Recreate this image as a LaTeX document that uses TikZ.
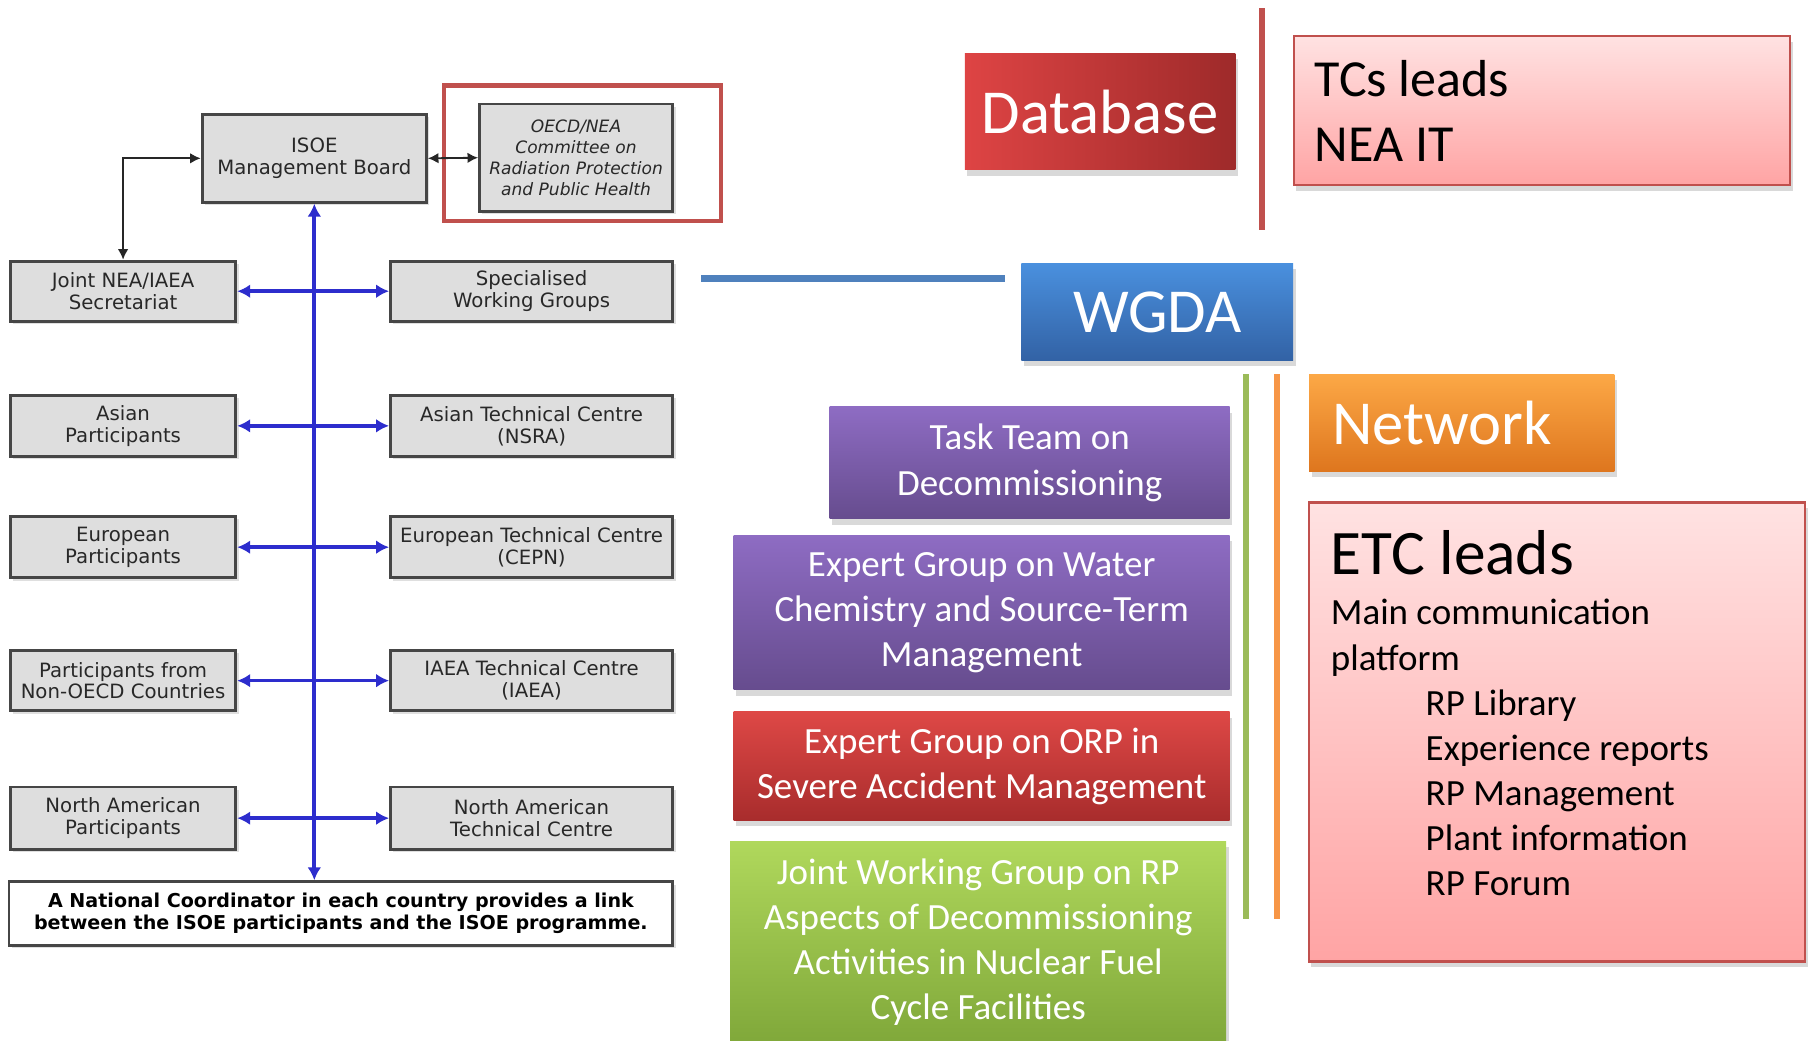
\documentclass[tikz,border=0pt]{standalone}
\usepackage{fontspec}
\setmainfont{Carlito}
\newfontfamily\leftfont{DejaVu Sans}
\usetikzlibrary{shadows,arrows.meta}
\definecolor{gfill}{RGB}{222,222,222}
\definecolor{gborder}{RGB}{70,70,70}
\definecolor{gtext}{RGB}{40,40,40}
\definecolor{flowblue}{RGB}{45,45,205}
\definecolor{frameRed}{RGB}{192,80,77}
\definecolor{dbL}{RGB}{222,68,68}
\definecolor{dbR}{RGB}{158,42,42}
\definecolor{wgT}{RGB}{74,144,222}
\definecolor{wgB}{RGB}{50,98,165}
\definecolor{netT}{RGB}{252,168,70}
\definecolor{netB}{RGB}{222,118,30}
\definecolor{purT}{RGB}{142,108,195}
\definecolor{purB}{RGB}{102,76,142}
\definecolor{redT}{RGB}{222,72,70}
\definecolor{redB}{RGB}{168,44,44}
\definecolor{grnT}{RGB}{176,216,92}
\definecolor{grnB}{RGB}{128,168,58}
\definecolor{pinkT}{RGB}{255,226,226}
\definecolor{pinkB}{RGB}{255,164,164}
\definecolor{lineRed}{RGB}{192,80,77}
\definecolor{lineBlue}{RGB}{79,129,189}
\definecolor{lineGreen}{RGB}{155,187,89}
\definecolor{lineOrange}{RGB}{247,150,70}
\tikzset{
  gbox/.style={draw=gborder, fill=gfill, line width=0.7pt, inner sep=0pt, align=center,
    text=gtext, font={\leftfont\fontsize{4.85}{5.4}\selectfont},
    drop shadow={shadow xshift=0.025cm, shadow yshift=-0.025cm, opacity=0.25}},
  bluearrow/.style={draw=flowblue, line width=0.9pt, {Latex[length=3.2pt,width=3.4pt]}-{Latex[length=3.2pt,width=3.4pt]}},
  blackarrow/.style={draw=black!85, line width=0.45pt, {Latex[length=2.6pt,width=2.6pt]}-{Latex[length=2.6pt,width=2.6pt]}},
  cbox/.style={inner sep=0pt, text=white, align=center,
    drop shadow={shadow xshift=0.02cm, shadow yshift=-0.05cm, opacity=0.3}},
  wbox/.style={cbox, font={\fontsize{9.1}{11.1}\selectfont}},
  bigtext/.style={font={\fontsize{15.4}{18}\selectfont}},
  pinkbox/.style={draw=frameRed, line width=0.6pt, top color=pinkT, bottom color=pinkB, inner sep=0pt,
    drop shadow={shadow xshift=0.02cm, shadow yshift=-0.05cm, opacity=0.3}},
  divider/.style={line width=1.6pt}
}
\begin{document}
\begin{tikzpicture}[x=0.01cm,y=-0.01cm]
\useasboundingbox (0,0) rectangle (1568,900);
% ---------- left organisation chart ----------
\node[draw=frameRed, line width=1pt, minimum width=2.40cm, minimum height=1.17cm, inner sep=0pt] (frame) at (504,132.5) {};
\node[gbox, minimum width=1.94cm, minimum height=0.76cm] (isoe) at (272,137) {ISOE\\Management Board};
\node[gbox, minimum width=1.67cm, minimum height=0.93cm, font={\leftfont\itshape\fontsize{4.2}{5.1}\selectfont}] (oecd) at (498.5,136.5) {OECD/NEA\\Committee on\\Radiation Protection\\and Public Health};

\node[gbox, minimum width=1.95cm, minimum height=0.52cm] (joint) at (106.5,252) {Joint NEA/IAEA\\Secretariat};
\node[gbox, minimum width=2.44cm, minimum height=0.52cm] (swg) at (460,252) {Specialised\\Working Groups};
\node[gbox, minimum width=1.95cm, minimum height=0.53cm] (asiap) at (106.5,368.5) {Asian\\Participants};
\node[gbox, minimum width=2.44cm, minimum height=0.53cm] (atc) at (460,368.5) {Asian Technical Centre\\(NSRA)};
\node[gbox, minimum width=1.95cm, minimum height=0.53cm] (europ) at (106.5,473.5) {European\\Participants};
\node[gbox, minimum width=2.44cm, minimum height=0.53cm] (etcen) at (460,473.5) {European Technical Centre\\(CEPN)};
\node[gbox, minimum width=1.95cm, minimum height=0.52cm] (nonoecd) at (106.5,589) {Participants from\\Non-OECD Countries};
\node[gbox, minimum width=2.44cm, minimum height=0.52cm] (iaea) at (460,589) {IAEA Technical Centre\\(IAEA)};
\node[gbox, minimum width=1.95cm, minimum height=0.54cm] (nap) at (106.5,708) {North American\\Participants};
\node[gbox, minimum width=2.44cm, minimum height=0.54cm] (natc) at (460,708) {North American\\Technical Centre};
\node[gbox, fill=white, text=black, minimum width=5.74cm, minimum height=0.55cm, font={\leftfont\bfseries\fontsize{4.7}{5.5}\selectfont}] (ncoord) at (295,790.5) {A National Coordinator in each country provides a link\\between the ISOE participants and the ISOE programme.};

\draw[blackarrow] (joint.north) |- (isoe.west);
\draw[blackarrow] (isoe.east) -- (oecd.west);
\draw[bluearrow] (isoe.south) -- (isoe.south |- ncoord.north);
\draw[bluearrow] (joint.east) -- (swg.west);
\draw[bluearrow] (asiap.east) -- (atc.west);
\draw[bluearrow] (europ.east) -- (etcen.west);
\draw[bluearrow] (nonoecd.east) -- (iaea.west);
\draw[bluearrow] (nap.east) -- (natc.west);

% ---------- right panel ----------
\draw[divider, lineBlue, line width=1.8pt] (607,241) -- (870,241);
\draw[divider, lineRed] (1092,7) -- (1092,199);
\draw[divider, lineGreen] (1078,324) -- (1078,795);
\draw[divider, lineOrange] (1105,324) -- (1105,795);

\node[cbox, bigtext, left color=dbL, right color=dbR, minimum width=2.34cm, minimum height=1.01cm] (db) at (952,96.5) {Database};
\node[pinkbox, minimum width=4.29cm, minimum height=1.29cm] (tcs) at (1334.5,95.5) {};
\node[anchor=west, inner sep=0pt, align=left, font={\fontsize{12.8}{15.9}\selectfont}] (tcstext) at (1137,96) {TCs leads\\NEA IT};
\node[cbox, bigtext, top color=wgT, bottom color=wgB, minimum width=2.35cm, minimum height=0.84cm] (wgda) at (1001.5,270) {WGDA};
\node[cbox, top color=netT, bottom color=netB, minimum width=2.64cm, minimum height=0.84cm] (net) at (1265,366) {};
\node[anchor=west, inner sep=0pt, text=white, bigtext] (nettext) at (1152,366) {Network};

\node[wbox, top color=purT, bottom color=purB, minimum width=3.46cm, minimum height=0.97cm] (task) at (891,400.5) {Task Team on\\Decommissioning};
\node[wbox, top color=purT, bottom color=purB, minimum width=4.29cm, minimum height=1.34cm] (water) at (849.5,530) {Expert Group on Water\\Chemistry and Source-Term\\Management};
\node[wbox, top color=redT, bottom color=redB, minimum width=4.29cm, minimum height=0.94cm] (orp) at (849.5,663) {Expert Group on ORP in\\Severe Accident Management};
\node[wbox, top color=grnT, bottom color=grnB, minimum width=4.29cm, minimum height=1.74cm] (jwg) at (846.5,815) {Joint Working Group on RP\\Aspects of Decommissioning\\Activities in Nuclear Fuel\\Cycle Facilities};

\node[pinkbox, minimum width=4.29cm, minimum height=3.97cm] (etc) at (1347.5,633.5) {};
\node[anchor=west, inner sep=0pt, font={\fontsize{15.6}{18}\selectfont}] (etctitle) at (1151,478) {ETC leads};
\node[anchor=north west, inner sep=0pt, align=left, font={\fontsize{9.1}{11.1}\selectfont}] (etcbody) at (1151,518) {Main communication\\platform\\\hspace*{0.82cm}RP Library\\\hspace*{0.82cm}Experience reports\\\hspace*{0.82cm}RP Management\\\hspace*{0.82cm}Plant information\\\hspace*{0.82cm}RP Forum};
\end{tikzpicture}
\end{document}
